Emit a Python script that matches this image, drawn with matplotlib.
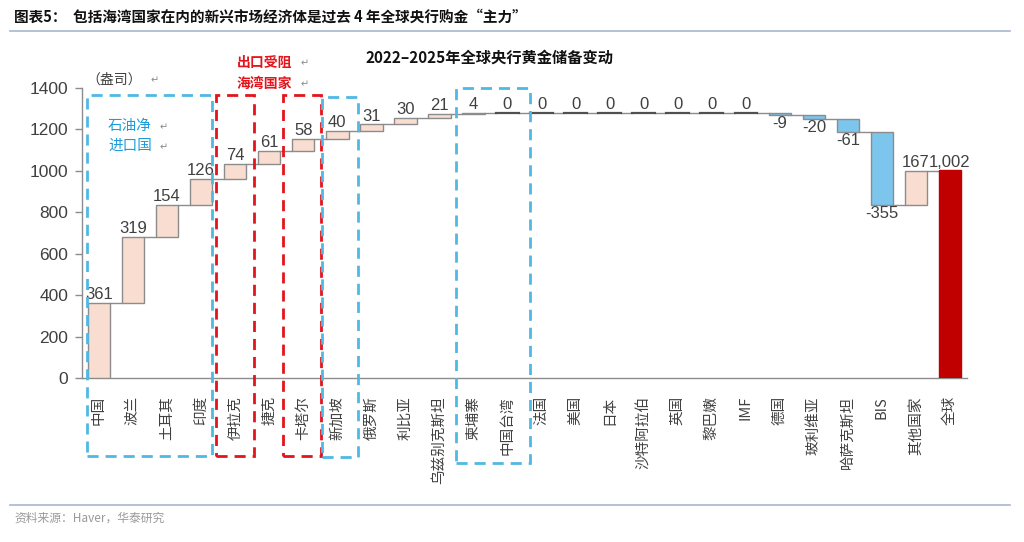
import numpy as np
import matplotlib
matplotlib.use("Agg")
import matplotlib.pyplot as plt
from matplotlib.patches import Rectangle
from matplotlib.lines import Line2D
import matplotlib.transforms as mtransforms

plt.rcParams['font.family'] = ['Noto Sans CJK SC', 'DejaVu Sans']
plt.rcParams['axes.unicode_minus'] = False

categories = ["中国", "波兰", "土耳其", "印度", "伊拉克", "捷克", "卡塔尔", "新加坡",
              "俄罗斯", "利比亚", "乌兹别克斯坦", "柬埔寨", "中国台湾", "法国", "美国",
              "日本", "沙特阿拉伯", "英国", "黎巴嫩", "IMF", "德国", "玻利维亚",
              "哈萨克斯坦", "BIS", "其他国家", "全球"]
changes = [361, 319, 154, 126, 74, 61, 58, 40, 31, 30, 21, 4, 0, 0, 0, 0, 0, 0, 0, 0,
           -9, -20, -61, -355, 167]
total = 1002
value_labels = ["361", "319", "154", "126", "74", "61", "58", "40", "31", "30", "21", "4",
                "0", "0", "0", "0", "0", "0", "0", "0", "-9", "-20", "-61", "-355", "167",
                "1,002"]
yticks = [0, 200, 400, 600, 800, 1000, 1200, 1400]

W, H = 1024, 542
fig = plt.figure(figsize=(W / 100, H / 100), dpi=100)
ax = fig.add_axes([82 / W, 1 - 378 / H, (967 - 82) / W, (378 - 88) / H])

peach = "#F9DDD0"
blue = "#7CC5EC"
dred = "#C00000"
edge = "#8C8C8C"
txt = "#404040"

ch = np.array(changes, dtype=float)
ends = np.cumsum(ch)
starts = ends - ch
n = len(categories)
x = np.arange(n)
bw = 0.66

for i, c in enumerate(ch):
    lo = min(starts[i], ends[i])
    h = abs(c)
    if c > 0:
        ax.bar(x[i], h, bottom=lo, width=bw, color=peach, edgecolor=edge, linewidth=1.0, zorder=3)
    elif c < 0:
        ax.bar(x[i], h, bottom=lo, width=bw, color=blue, edgecolor=edge, linewidth=1.0, zorder=3)
    else:
        ax.plot([x[i] - bw / 2, x[i] + bw / 2], [ends[i], ends[i]], color="#505050", lw=1.6, zorder=4)
# total bar
ax.bar(x[-1], total, width=bw, color=dred, edgecolor=dred, linewidth=1.0, zorder=3)

# connectors
for i in range(n - 1):
    lvl = ends[i]
    ax.plot([x[i] + bw / 2, x[i + 1] - bw / 2], [lvl, lvl], color=edge, lw=1.0, zorder=2)

# value labels
lab_font = dict(family=['Liberation Sans', 'DejaVu Sans'], fontsize=12, color=txt)
for i in range(n):
    if i < len(ch):
        c = ch[i]
        top = max(starts[i], ends[i])
        bot = min(starts[i], ends[i])
    else:
        c = total
        top, bot = total, 0
    if c >= 0:
        ax.text(x[i], top + 4, value_labels[i], ha='center', va='bottom', zorder=5, **lab_font)
    else:
        ax.text(x[i], bot - 6, value_labels[i], ha='center', va='top', zorder=5, **lab_font)

ax.set_xlim(-0.5, n - 0.5)
ax.set_ylim(0, 1400)
ax.set_yticks(yticks)
ax.set_yticklabels([str(v) for v in yticks], family=['Liberation Sans', 'DejaVu Sans'],
                   fontsize=12.5, color=txt)
ax.set_xticks(x)
ax.set_xticklabels(categories, rotation=90, fontsize=10.5, color=txt, va='top', ha='center')
ax.tick_params(axis='x', length=0, pad=13)
ax.tick_params(axis='y', length=5, color=edge, width=1, pad=5)
for s in ['top', 'right']:
    ax.spines[s].set_visible(False)
for s in ['left', 'bottom']:
    ax.spines[s].set_color(edge)
    ax.spines[s].set_linewidth(1)

# dashed boxes: x in data coords, y in axes fraction
trans = mtransforms.blended_transform_factory(ax.transData, ax.transAxes)
def yfrac(py):
    return (378 - py) / 290.0

cyan = "#4FB9E3"
red = "#E3141B"
boxes = [(-0.35, 3.33, 95, 456, cyan),
         (3.43, 4.54, 95, 456, red),
         (5.40, 6.52, 95, 456, red),
         (6.56, 7.62, 97, 457, cyan),
         (10.5, 12.67, 88, 463, cyan)]
for x0, x1, ptop, pbot, col in boxes:
    r = Rectangle((x0, yfrac(pbot)), x1 - x0, yfrac(ptop) - yfrac(pbot), transform=trans,
                  fill=False, edgecolor=col, lw=2.0, linestyle=(0, (4, 2.5)), clip_on=False, zorder=6)
    ax.add_patch(r)

# annotations
fig.text(86 / W, 1 - 80 / H, "（盎司）", fontsize=10, color=txt, va='center', ha='left')
fig.text(151 / W, 1 - 80 / H, "↵", fontsize=7, color="#888888", va='center', ha='left')
fig.text(237 / W, 1 - 63 / H, "出口受阻", fontsize=10, color=red, va='center', ha='left', fontweight='bold')
fig.text(237 / W, 1 - 84 / H, "海湾国家", fontsize=10, color=red, va='center', ha='left', fontweight='bold')
fig.text(301 / W, 1 - 63 / H, "↵", fontsize=7, color="#888888", va='center', ha='left')
fig.text(301 / W, 1 - 84 / H, "↵", fontsize=7, color="#888888", va='center', ha='left')
fig.text(108 / W, 1 - 126 / H, "石油净", fontsize=10.5, color="#1C9CD8", va='center', ha='left')
fig.text(108 / W, 1 - 146 / H, "进口国", fontsize=10.5, color="#1C9CD8", va='center', ha='left')
fig.text(160 / W, 1 - 127 / H, "↵", fontsize=7, color="#888888", va='center', ha='left')
fig.text(160 / W, 1 - 147 / H, "↵", fontsize=7, color="#888888", va='center', ha='left')

# chart title
fig.text(490 / W, 1 - 58 / H, "2022–2025年全球央行黄金储备变动", fontsize=11, fontweight='bold',
         color="#111111", ha='center', va='center')

# header
fig.text(14 / W, 1 - 17 / H, "图表5：  包括海湾国家在内的新兴市场经济体是过去 4 年全球央行购金“主力”",
         fontsize=10.5, fontweight='bold', color="#111111", ha='left', va='center')
fig.add_artist(Line2D([10 / W, 1010 / W], [1 - 31 / H, 1 - 31 / H], color="#A8B8CC", lw=1.2))
fig.add_artist(Line2D([10 / W, 1010 / W], [1 - 505 / H, 1 - 505 / H], color="#A8B8CC", lw=1.2))
fig.text(14 / W, 1 - 518 / H, "资料来源：Haver，华泰研究", fontsize=8.5, color="#999999",
         ha='left', va='center')

fig.savefig("out.png", dpi=100)
